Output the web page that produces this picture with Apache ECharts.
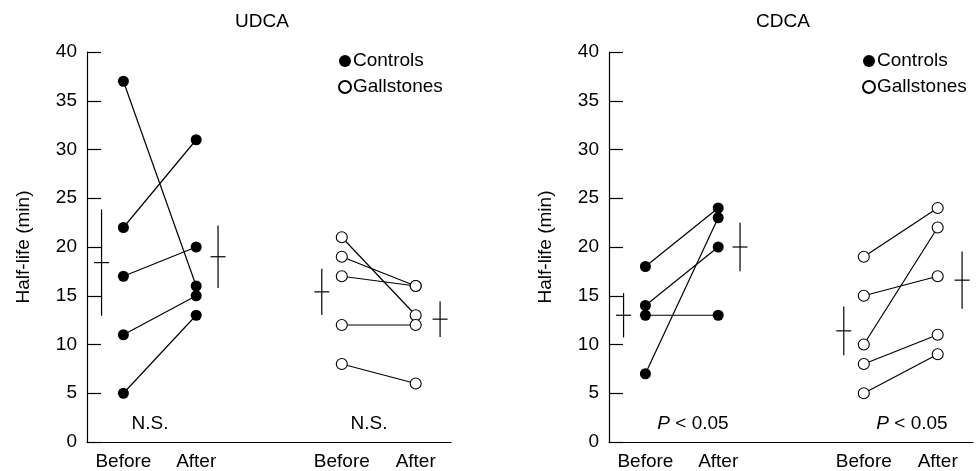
<!DOCTYPE html>
<html>
<head>
<meta charset="utf-8">
<script src="https://cdn.jsdelivr.net/npm/echarts@6/dist/echarts.min.js"></script>
<style>
  html, body { margin: 0; padding: 0; background: #fff; }
  #chart { width: 977px; height: 471px; }
</style>
</head>
<body>
<div id="chart"></div>
<script>
// half-life values (min), one entry per subject
const udcaControlsBefore = [37, 22, 17, 11, 5];
const udcaControlsAfter = [16, 31, 20, 15, 13];
const udcaGallBefore = [21, 19, 17, 12, 8];
const udcaGallAfter = [13, 16, 16, 12, 6];

const cdcaControlsBefore = [18, 14, 13, 7];
const cdcaControlsAfter = [24, 20, 13, 23];
const cdcaGallBefore = [19, 15, 10, 8, 5];
const cdcaGallAfter = [24, 17, 22, 11, 9];

const panelTitles = ['UDCA', 'CDCA'];
const statLabels = [['N.S.', 'N.S.'], ['P < 0.05', 'P < 0.05']];
const xTickLabels = ['Before', 'After', 'Before', 'After'];
const yTicks = [0, 5, 10, 15, 20, 25, 30, 35, 40];

// x slots on a 0-100 axis
const xControls = [10, 30];
const xGall = [70, 90.3];
const xSemControls = [4, 36];
const xSemGall = [64.5, 97];

const FONT = 'Liberation Sans, Arial, sans-serif';
const FS = 19;

function mean(a) { return a.reduce((s, v) => s + v, 0) / a.length; }
function sem(a) {
  const m = mean(a);
  const v = a.reduce((s, x) => s + (x - m) * (x - m), 0) / (a.length - 1);
  return Math.sqrt(v) / Math.sqrt(a.length);
}

const filledStyle = { color: '#000' };
const openStyle = { color: '#fff', borderColor: '#000', borderWidth: 1.1 };

function pairSeries(name, idx, before, after, xs, style) {
  return before.map((b, i) => ({
    type: 'line',
    name: name,
    xAxisIndex: idx,
    yAxisIndex: idx,
    data: [[xs[0], b], [xs[1], after[i]]],
    symbol: 'circle',
    symbolSize: 11,
    itemStyle: style,
    lineStyle: { color: '#000', width: 1.2 },
    emphasis: { disabled: true }
  }));
}

function semSeries(idx, groups) {
  return {
    type: 'custom',
    xAxisIndex: idx,
    yAxisIndex: idx,
    encode: { x: 0, y: 1 },
    data: groups.map(g => [g[0], mean(g[1]), sem(g[1])]),
    renderItem: function (params, api) {
      const x = api.value(0), m = api.value(1), s = api.value(2);
      const top = api.coord([x, m + s]);
      const bot = api.coord([x, m - s]);
      const mid = api.coord([x, m]);
      const st = { stroke: '#000', lineWidth: 1.2 };
      return {
        type: 'group',
        children: [
          { type: 'line', shape: { x1: top[0], y1: top[1], x2: bot[0], y2: bot[1] }, style: st },
          { type: 'line', shape: { x1: mid[0] - 7.5, y1: mid[1], x2: mid[0] + 7.5, y2: mid[1] }, style: st }
        ]
      };
    }
  };
}

const gridLefts = [87, 609];
const xLabelVals = [xControls[0], xControls[1], xGall[0], xGall[1]];

const chart = echarts.init(document.getElementById('chart'));

const option = {
  animation: false,
  textStyle: { fontFamily: FONT, color: '#000' },
  grid: gridLefts.map(l => ({ left: l, width: 364, top: 52, height: 391 })),
  xAxis: gridLefts.map((l, i) => ({
    type: 'value',
    gridIndex: i,
    min: 0,
    max: 100,
    splitLine: { show: false },
    axisLine: { lineStyle: { color: '#000', width: 1.2 } },
    axisTick: { show: false },
    axisLabel: {
      customValues: xLabelVals,
      formatter: v => xTickLabels[xLabelVals.indexOf(v)] || '',
      color: '#000', fontSize: FS, fontFamily: FONT, margin: 10
    }
  })),
  yAxis: gridLefts.map((l, i) => ({
    type: 'value',
    gridIndex: i,
    min: 0,
    max: 40,
    interval: 5,
    name: 'Half-life (min)',
    nameLocation: 'middle',
    nameRotate: 90,
    nameGap: 54,
    nameTextStyle: { color: '#000', fontSize: FS, fontFamily: FONT },
    splitLine: { show: false },
    axisLine: { show: true, lineStyle: { color: '#000', width: 1.2 } },
    axisTick: { inside: true, length: 14, lineStyle: { color: '#000', width: 1.2 } },
    axisLabel: { color: '#000', fontSize: FS, fontFamily: FONT, margin: 10,
      customValues: yTicks }
  })),
  legend: [333, 857].map(l => ({
    orient: 'vertical',
    left: l,
    top: 46,
    icon: 'circle',
    itemWidth: 12,
    itemHeight: 12,
    itemGap: 6,
    selectedMode: false,
    data: ['Controls', 'Gallstones'],
    textStyle: { color: '#000', fontSize: FS, fontFamily: FONT, lineHeight: 20, padding: [0, 0, 0, -3] }
  })),
  graphic: [
    ...panelTitles.map((t, i) => ({
      type: 'text', x: [262, 783][i], y: 22,
      style: { text: t, fontSize: FS, fontFamily: FONT, fill: '#000', align: 'center', verticalAlign: 'middle' }
    })),
    ...[[150, 369], [693, 912]].flatMap((xs, p) => xs.map((x, k) => ({
      type: 'text', x: x, y: 424,
      style: {
        text: p === 0 ? statLabels[p][k] : '{i|P} < 0.05',
        rich: { i: { fontStyle: 'italic', fontSize: FS, fontFamily: FONT } },
        fontSize: FS, fontFamily: FONT, fill: '#000', align: 'center', verticalAlign: 'middle'
      }
    })))
  ],
  series: [
    ...pairSeries('Controls', 0, udcaControlsBefore, udcaControlsAfter, xControls, filledStyle),
    ...pairSeries('Gallstones', 0, udcaGallBefore, udcaGallAfter, xGall, openStyle),
    ...pairSeries('Controls', 1, cdcaControlsBefore, cdcaControlsAfter, xControls, filledStyle),
    ...pairSeries('Gallstones', 1, cdcaGallBefore, cdcaGallAfter, xGall, openStyle),
    semSeries(0, [
      [xSemControls[0], udcaControlsBefore], [xSemControls[1], udcaControlsAfter],
      [xSemGall[0], udcaGallBefore], [xSemGall[1], udcaGallAfter]
    ]),
    semSeries(1, [
      [xSemControls[0], cdcaControlsBefore], [xSemControls[1], cdcaControlsAfter],
      [xSemGall[0], cdcaGallBefore], [xSemGall[1], cdcaGallAfter]
    ])
  ]
};

chart.setOption(option);
</script>
</body>
</html>
